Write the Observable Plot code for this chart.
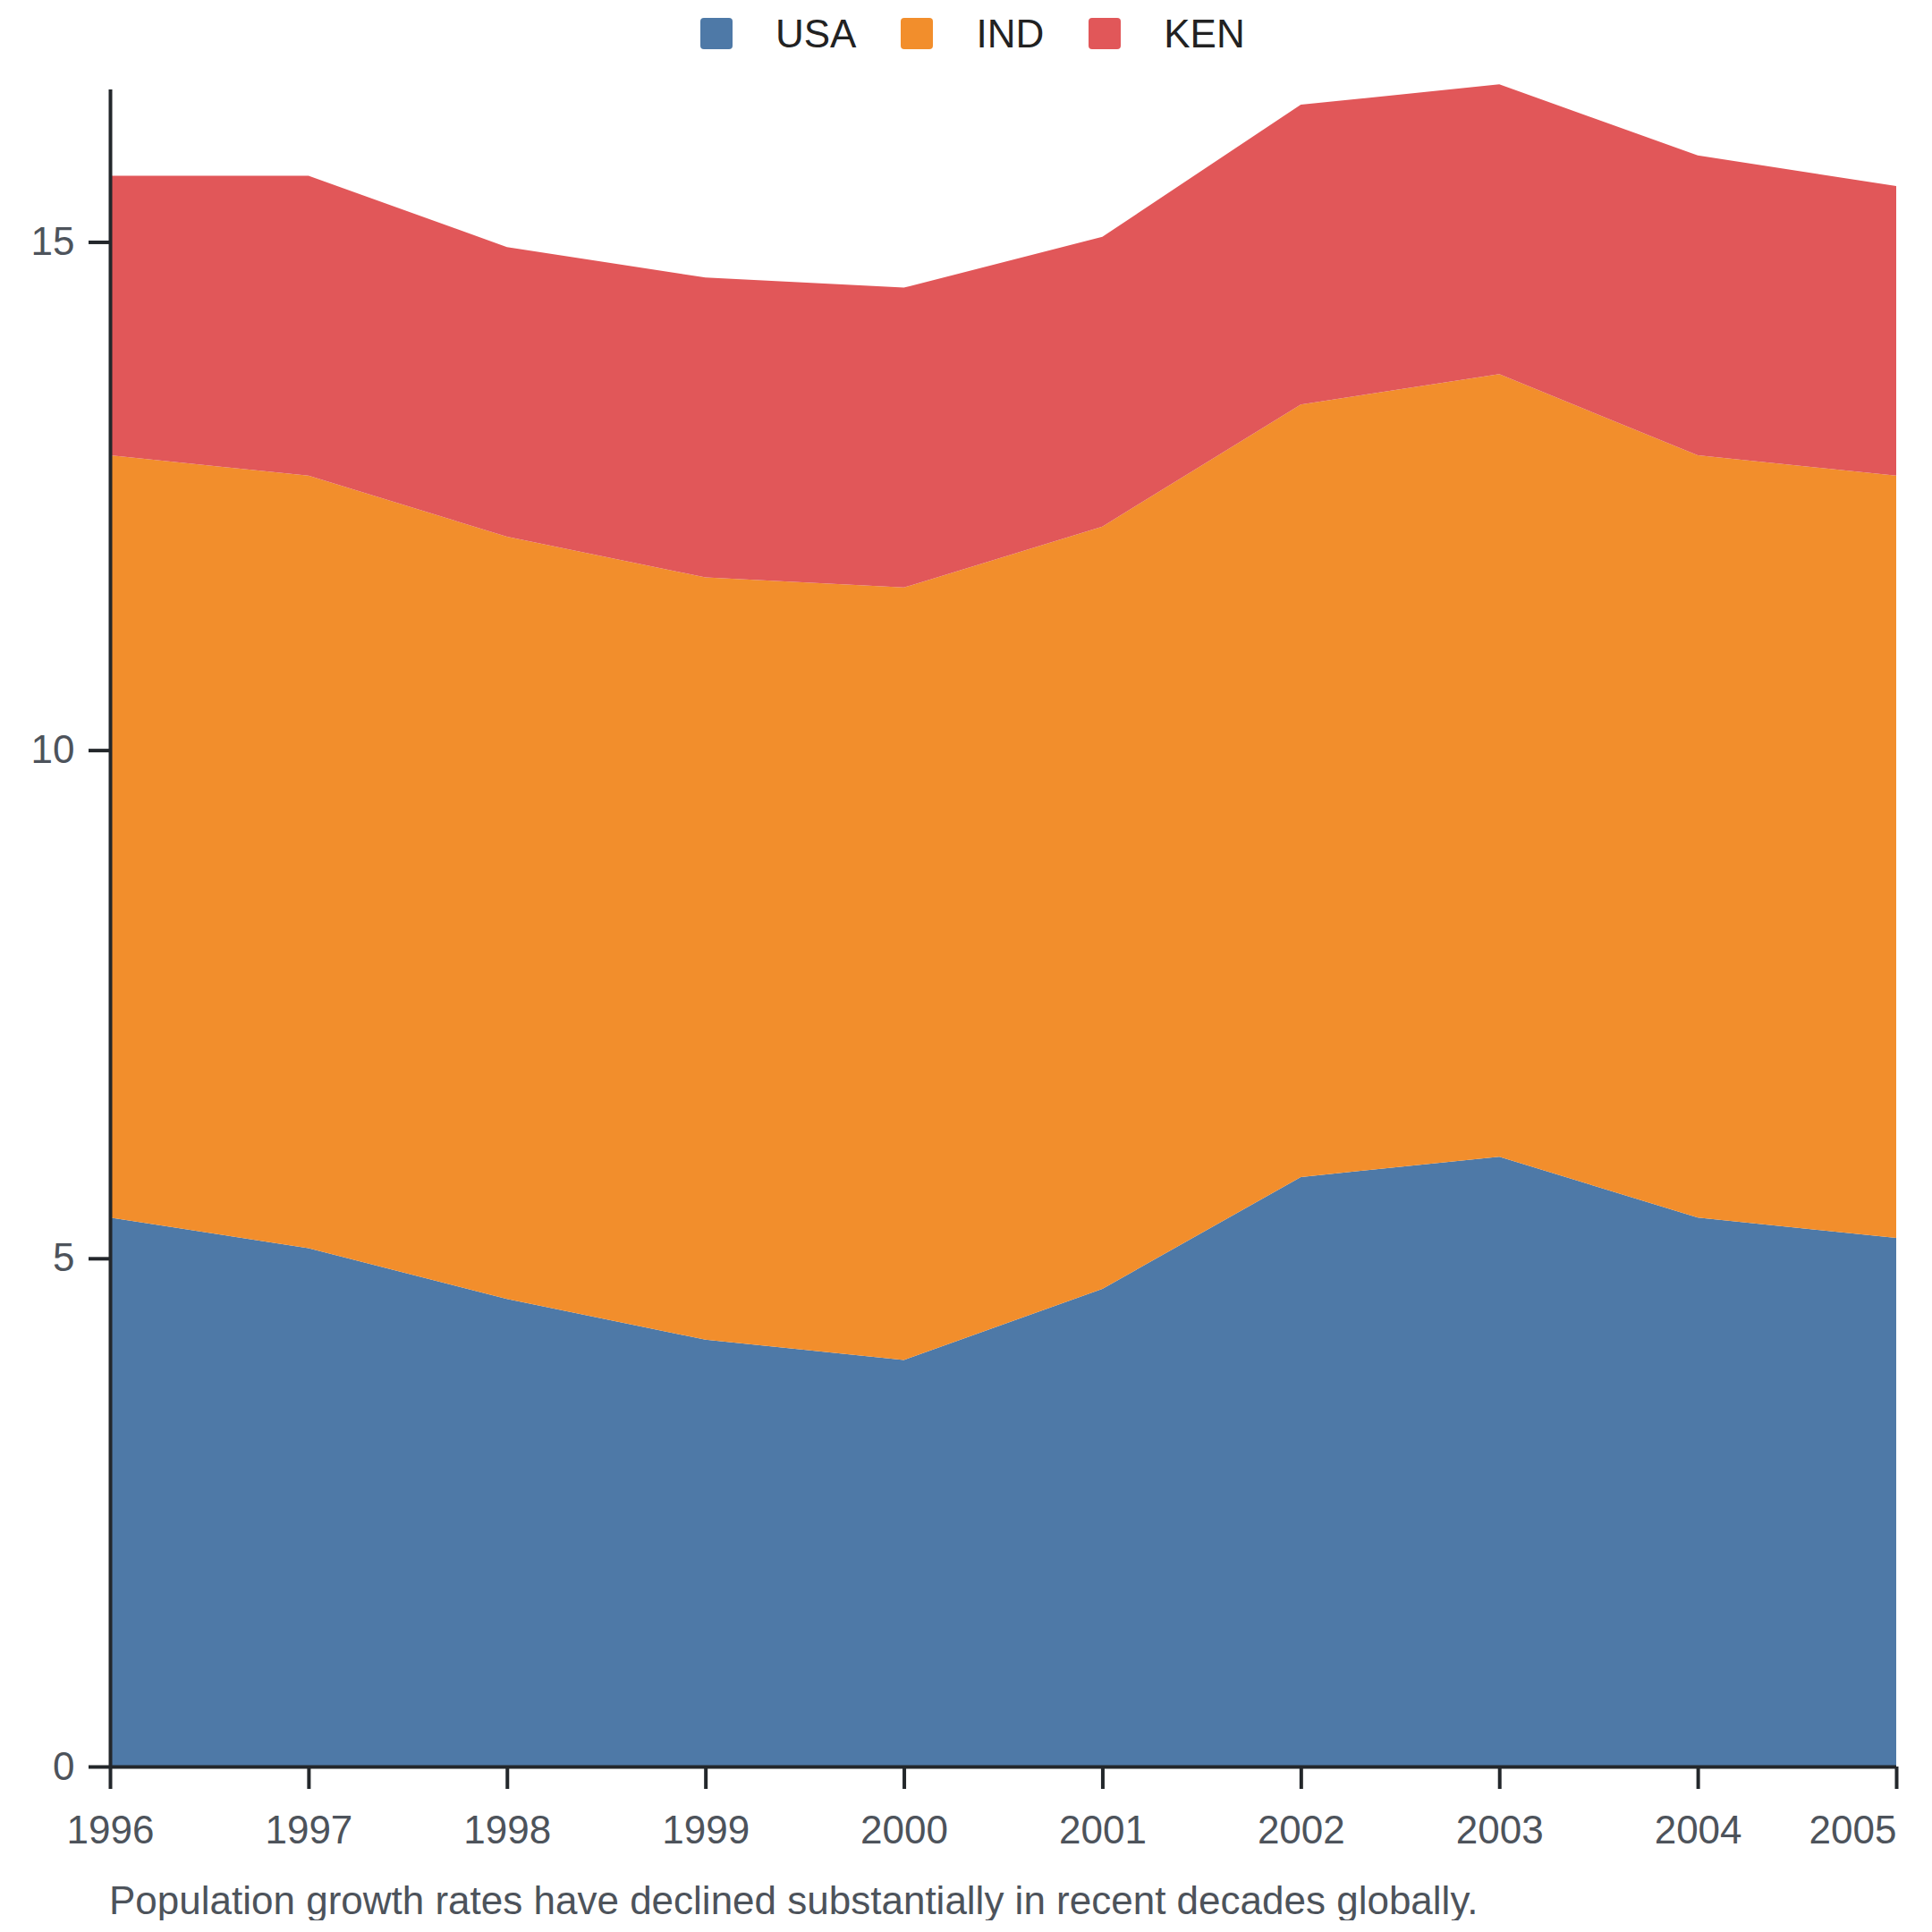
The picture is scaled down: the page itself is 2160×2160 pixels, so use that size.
<!DOCTYPE html>
<html>
<head>
<meta charset="utf-8">
<script src="https://cdn.jsdelivr.net/npm/d3@7"></script>
<script src="https://cdn.jsdelivr.net/npm/@observablehq/plot@0.6"></script>
<style>
  html, body { margin: 0; padding: 0; background: #fff; }
  body { width: 2160px; font-family: "Liberation Sans", Arial, sans-serif; }
  #legend { height: 75px; display: flex; align-items: center; padding-left: 783px; font-size: 44px; color: #222; box-sizing: border-box; }
  .item { display: flex; align-items: center; margin-right: 50px; }
  .sw { width: 36px; height: 35px; border-radius: 4px; margin-right: 48px; }
  #caption { padding-left: 122px; font-size: 44px; line-height: 44px; height: 44px; color: #4d535b; white-space: nowrap; }
  svg { display: block; }
</style>
</head>
<body>
<div id="legend"></div>
<div id="chart"></div>
<div id="caption">Population growth rates have declined substantially in recent decades globally.</div>
<script>
const years = [1996, 1997, 1998, 1999, 2000, 2001, 2002, 2003, 2004, 2005];
const countries = ["USA", "IND", "KEN"];
const colors = ["#4e79a7", "#f28e2c", "#e15759"];
const usa = [5.4, 5.1, 4.6, 4.2, 4.0, 4.7, 5.8, 6.0, 5.4, 5.2];
const ind = [7.5, 7.6, 7.5, 7.5, 7.6, 7.5, 7.6, 7.7, 7.5, 7.5];
const ken = [2.75, 2.95, 2.85, 2.95, 2.95, 2.85, 2.95, 2.85, 2.95, 2.85];
const yTicks = [0, 5, 10, 15];
const yMax = 16.5;

const series = [usa, ind, ken];
const table = countries.flatMap((c, i) => years.map((yr, j) => ({year: yr, country: c, value: series[i][j]})));

// Legend
const legend = document.getElementById("legend");
countries.forEach((c, i) => {
  const item = document.createElement("div");
  item.className = "item";
  const sw = document.createElement("div");
  sw.className = "sw";
  sw.style.background = colors[i];
  const t = document.createElement("span");
  t.textContent = c;
  item.appendChild(sw);
  item.appendChild(t);
  legend.appendChild(item);
});

const axisStroke = "#23272b";
const labelFill = "#4d535b";

const chart = Plot.plot({
  width: 2160,
  height: 2028,
  marginTop: 25,
  marginLeft: 123,
  marginRight: 40,
  marginBottom: 128,
  style: {fontFamily: "'Liberation Sans', Arial, sans-serif", fontSize: "44px", background: "white", overflow: "visible"},
  x: {domain: [years[0], years[years.length - 1]]},
  y: {domain: [0, yMax]},
  color: {domain: countries, range: colors},
  marks: [
    Plot.areaY(table, {x: "year", y: "value", fill: "country"}),
    Plot.ruleY([0], {stroke: axisStroke, strokeWidth: 4}),
    Plot.ruleX([years[0]], {stroke: axisStroke, strokeWidth: 4}),
    Plot.axisY({ticks: yTicks, tickSize: 24, tickPadding: 16, stroke: axisStroke, strokeWidth: 4, fill: labelFill, fontSize: 44, label: null}),
    Plot.axisX({ticks: years.slice(0, -1), tickFormat: "d", tickSize: 25, tickPadding: 29, stroke: axisStroke, strokeWidth: 4, fill: labelFill, fontSize: 44, label: null}),
    Plot.axisX({ticks: years.slice(-1), tickFormat: "d", tickSize: 25, tickPadding: 29, textAnchor: "end", stroke: axisStroke, strokeWidth: 4, fill: labelFill, fontSize: 44, label: null})
  ]
});
document.getElementById("chart").appendChild(chart);
</script>
</body>
</html>
